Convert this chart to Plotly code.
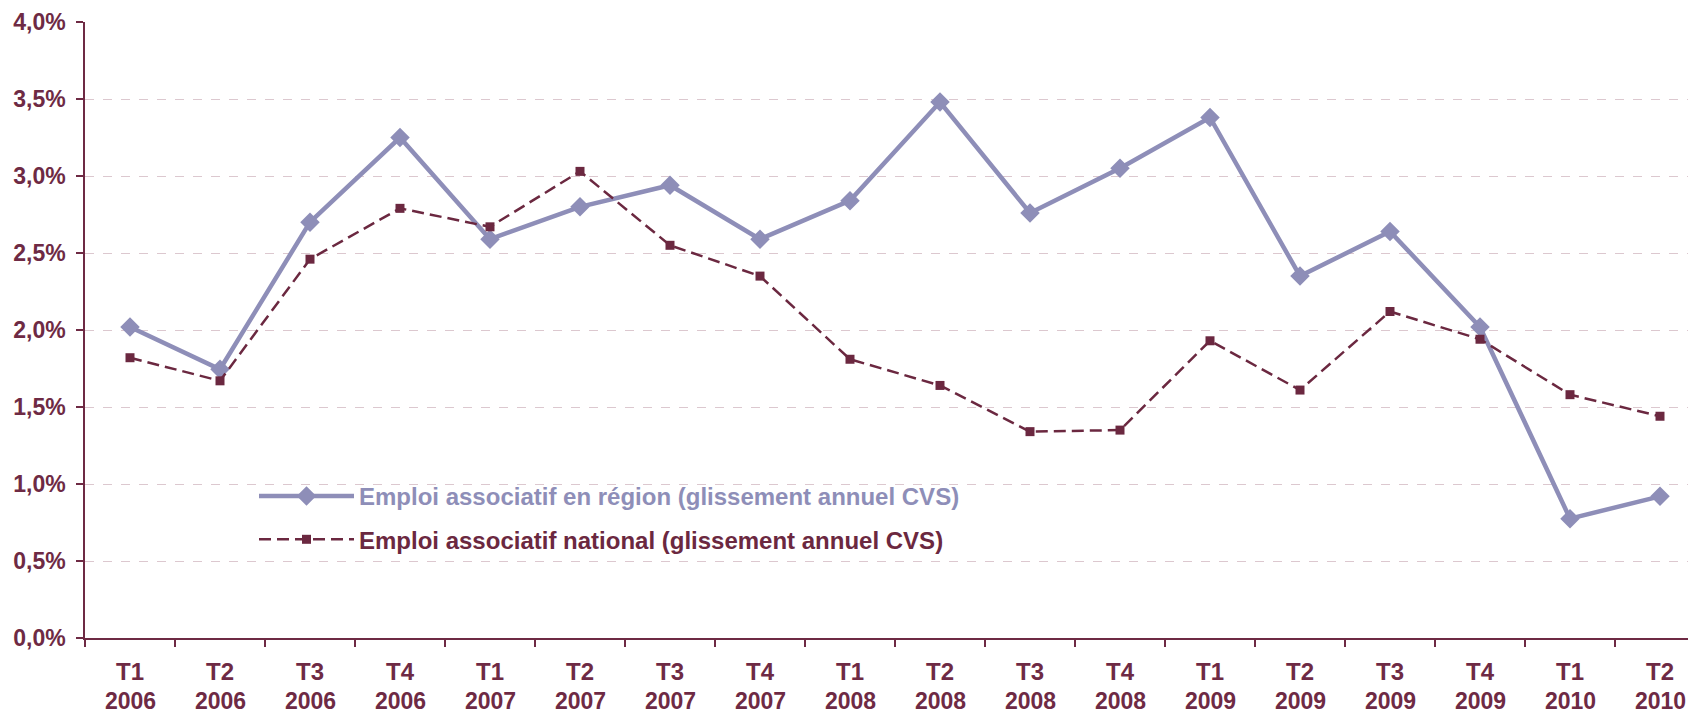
import plotly.graph_objects as go

# Trimestres (axe des x)
trimestres = ["T1", "T2", "T3", "T4", "T1", "T2", "T3", "T4", "T1",
              "T2", "T3", "T4", "T1", "T2", "T3", "T4", "T1", "T2"]
annees = ["2006", "2006", "2006", "2006", "2007", "2007", "2007", "2007", "2008",
          "2008", "2008", "2008", "2009", "2009", "2009", "2009", "2010", "2010"]

# Glissement annuel CVS (%)
emploi_region = [2.02, 1.745, 2.70, 3.25, 2.59, 2.80, 2.94, 2.59, 2.84,
                 3.48, 2.76, 3.05, 3.38, 2.35, 2.64, 2.02, 0.775, 0.92]
emploi_national = [1.82, 1.67, 2.46, 2.79, 2.67, 3.03, 2.55, 2.35, 1.81,
                   1.64, 1.34, 1.35, 1.93, 1.61, 2.12, 1.94, 1.58, 1.44]

COL_REGION = "#8E8EB8"
COL_NATIONAL = "#6B2840"
COL_AXE = "#6E2A44"
COL_GRILLE = "#DCC8CF"
FONT = "Liberation Sans, Arial, sans-serif"

W, H = 1688, 715
L, T, B = 85, 22, 77
plot_w = W - L
plot_h = H - T - B
cat_w = 90.0

x = list(range(len(trimestres)))

trace1 = go.Scatter(
    x=x, y=emploi_region,
    mode="lines+markers",
    name="<span style='color:%s'>Emploi associatif en région (glissement annuel CVS)</span>" % COL_REGION,
    legendgroup="a",
    line=dict(color=COL_REGION, width=4.5),
    marker=dict(symbol="diamond", size=15, color=COL_REGION))

trace2 = go.Scatter(
    x=x, y=emploi_national,
    mode="lines+markers",
    name="<span style='color:%s'>Emploi associatif national (glissement annuel CVS)</span>" % COL_NATIONAL,
    legendgroup="b",
    line=dict(color=COL_NATIONAL, width=2.5, dash="12px,6px"),
    marker=dict(symbol="square", size=9, color=COL_NATIONAL))

# la dernière catégorie est coupée au bord droit, comme dans l'original
x_max = plot_w / cat_w - 0.5

annotations = []
for i, a in enumerate(annees):
    annotations.append(dict(
        x=i, y=0, xref="x", yref="paper",
        text=a, showarrow=False,
        yanchor="middle", yshift=-63,
        font=dict(size=23, color=COL_AXE, family=FONT, weight="bold")))

legend_left = (182 - L) / plot_w
legend_right = (1068 - L) / plot_w

layout = dict(
    width=W, height=H,
    paper_bgcolor="white", plot_bgcolor="white",
    separators=", ",
    font=dict(family=FONT, color=COL_AXE),
    margin=dict(l=L, r=0, t=T, b=B, pad=0),
    xaxis=dict(
        range=[-0.5, x_max],
        tickmode="array", tickvals=x, ticktext=trimestres,
        tickfont=dict(size=24, color=COL_AXE, family=FONT, weight="bold"),
        ticks="", showgrid=False, zeroline=False,
        showline=True, linecolor=COL_AXE, linewidth=1.5,
        ticklabelstandoff=11,
        minor=dict(tickmode="array", tickvals=[i + 0.5 for i in x] + [-0.5],
                   ticks="outside", ticklen=7, tickcolor=COL_AXE, tickwidth=1.5,
                   showgrid=False)),
    yaxis=dict(
        range=[0, 4], dtick=0.5, tick0=0,
        tickformat=".1f", ticksuffix="%",
        tickfont=dict(size=23, color=COL_AXE, family=FONT, weight="bold"),
        ticks="outside", ticklen=7, tickcolor=COL_AXE, tickwidth=1.5,
        showline=True, linecolor=COL_AXE, linewidth=1.5,
        showgrid=True, gridcolor=COL_GRILLE, griddash="dash", gridwidth=1.2,
        zeroline=False, ticklabelstandoff=6),
    legend=dict(
        x=(262 - L - 8) / plot_w, y=1 - (474 - T) / plot_h,
        xanchor="left", yanchor="top",
        bgcolor="rgba(0,0,0,0)",
        font=dict(size=24, family=FONT, weight="bold"),
        itemwidth=95, tracegroupgap=9),
    shapes=[dict(type="rect", xref="paper", yref="paper", layer="between",
                 x0=legend_left, x1=legend_right,
                 y0=1 - (556 - T) / plot_h, y1=1 - (472 - T) / plot_h,
                 fillcolor="white", line=dict(width=0))],
    annotations=annotations,
    showlegend=True)

fig = go.Figure(data=[trace1, trace2], layout=layout)
fig.write_html("out.html",
               config={"displayModeBar": False},
               post_script="document.body.style.margin='0';document.body.style.overflow='hidden';")
